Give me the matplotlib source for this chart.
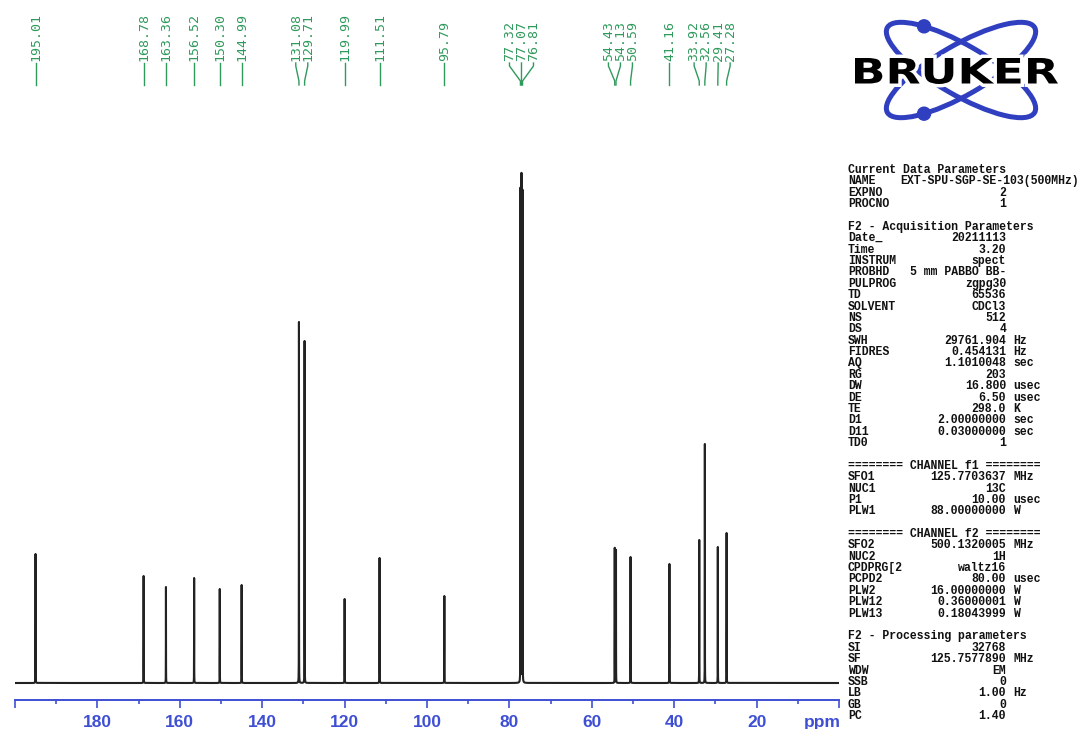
import numpy as np
import matplotlib
matplotlib.use("Agg")
import matplotlib.pyplot as plt
from matplotlib import transforms
from matplotlib.patches import Ellipse, Circle, PathPatch
from matplotlib.path import Path
from matplotlib.textpath import TextPath
from matplotlib.font_manager import FontProperties

# 13C peak list (ppm) and peak heights (plot units)
shifts = [195.01, 168.78, 163.36, 156.52, 150.30, 144.99, 131.08, 129.71,
          119.99, 111.51, 95.79, 77.32, 77.07, 76.81, 54.43, 54.13, 50.59,
          41.16, 33.92, 32.56, 29.41, 27.28]
heights = [129, 107, 96, 105, 94, 98, 361, 342, 84, 125, 87, 494, 508, 492,
           135, 133, 126, 119, 143, 239, 136, 150]

axis_ticks = list(range(0, 201, 20))
axis_minor = list(range(10, 200, 20))
axis_labels = ["" if t in (0, 200) else str(t) for t in axis_ticks]

# parameter block: header strings, blank lines (None) and (name, value, unit)
params = [
    "Current Data Parameters",
    ("NAME", "EXT-SPU-SGP-SE-103(500MHz)", ""),
    ("EXPNO", "2", ""),
    ("PROCNO", "1", ""),
    None,
    "F2 - Acquisition Parameters",
    ("Date_", "20211113", ""),
    ("Time", "3.20", ""),
    ("INSTRUM", "spect", ""),
    ("PROBHD", "5 mm PABBO BB-", ""),
    ("PULPROG", "zgpg30", ""),
    ("TD", "65536", ""),
    ("SOLVENT", "CDCl3", ""),
    ("NS", "512", ""),
    ("DS", "4", ""),
    ("SWH", "29761.904", "Hz"),
    ("FIDRES", "0.454131", "Hz"),
    ("AQ", "1.1010048", "sec"),
    ("RG", "203", ""),
    ("DW", "16.800", "usec"),
    ("DE", "6.50", "usec"),
    ("TE", "298.0", "K"),
    ("D1", "2.00000000", "sec"),
    ("D11", "0.03000000", "sec"),
    ("TD0", "1", ""),
    None,
    "======== CHANNEL f1 ========",
    ("SFO1", "125.7703637", "MHz"),
    ("NUC1", "13C", ""),
    ("P1", "10.00", "usec"),
    ("PLW1", "88.00000000", "W"),
    None,
    "======== CHANNEL f2 ========",
    ("SFO2", "500.1320005", "MHz"),
    ("NUC2", "1H", ""),
    ("CPDPRG[2", "waltz16", ""),
    ("PCPD2", "80.00", "usec"),
    ("PLW2", "16.00000000", "W"),
    ("PLW12", "0.36000001", "W"),
    ("PLW13", "0.18043999", "W"),
    None,
    "F2 - Processing parameters",
    ("SI", "32768", ""),
    ("SF", "125.7577890", "MHz"),
    ("WDW", "EM", ""),
    ("SSB", "0", ""),
    ("LB", "1.00", "Hz"),
    ("GB", "0", ""),
    ("PC", "1.40", ""),
]

BLUE = "#3f4fd4"
GREEN = "#2f9a5c"
LOGO_BLUE = "#2f3fbf"

W, H = 1083, 729
fig = plt.figure(figsize=(W / 100, H / 100), dpi=100)


def px_rect(x0, y0, x1, y1):
    return [x0 / W, 1 - y1 / H, (x1 - x0) / W, (y1 - y0) / H]


# spectrum axes
ax = fig.add_axes(px_rect(15, 150, 839, 700))
ax.set_xlim(200, 0)
ax.set_ylim(-17, 533)

ppm = np.linspace(0, 200, 400001)
hw = 0.012
spec = np.zeros_like(ppm)
for s, h in zip(shifts, heights):
    spec += h / (1 + ((ppm - s) / hw) ** 2)
ax.plot(ppm, spec, color="#222222", lw=1.5)

for side in ("top", "left", "right"):
    ax.spines[side].set_visible(False)
ax.spines["bottom"].set_color(BLUE)
ax.spines["bottom"].set_linewidth(1.4)
ax.set_yticks([])
ax.set_xticks(axis_ticks)
ax.set_xticklabels(axis_labels, fontweight="bold", family="Liberation Sans")
ax.set_xticks(axis_minor, minor=True)
ax.tick_params(axis="x", which="major", direction="out", length=6, width=1.2,
               colors=BLUE, labelsize=12.5, pad=5)
ax.tick_params(axis="x", which="minor", direction="out", length=3, width=1.2,
               colors=BLUE)

# overlay in pixel coordinates (y down) for labels, parameters and logo
top = fig.add_axes([0, 0, 1, 1])
top.set_xlim(0, W)
top.set_ylim(H, 0)
top.axis("off")
trans = transforms.blended_transform_factory(ax.transData, top.transData)

top.text(4, 722, "ppm", transform=trans, ha="center", va="center",
         color=BLUE, fontsize=12.5, fontweight="bold", family="Liberation Sans")


def spread(xs, gap):
    # push overlapping labels apart, keeping each cluster centred on its peaks
    groups = [[x] for x in xs]
    changed = True
    while changed:
        changed = False
        out = [groups[0]]
        for g in groups[1:]:
            prev = out[-1]
            end_prev = np.mean(prev) + (len(prev) - 1) * gap / 2
            start_g = np.mean(g) - (len(g) - 1) * gap / 2
            if start_g - end_prev < gap:
                out[-1] = prev + g
                changed = True
            else:
                out.append(g)
        groups = out
    pos = []
    for g in groups:
        c = np.mean(g)
        pos += [c + (i - (len(g) - 1) / 2) * gap for i in range(len(g))]
    return pos


label_pos = [-u for u in spread([-s for s in shifts], 12 / 4.12)]
for s, lp in zip(shifts, label_pos):
    top.plot([lp, lp, s, s], [63, 66, 81, 85], transform=trans,
             color=GREEN, lw=1.0)
    top.text(lp, 61, f"{s:.2f}", transform=trans, rotation=90,
             rotation_mode="anchor", ha="left", va="center",
             family="DejaVu Sans Mono", fontsize=9.5, color=GREEN)

# parameter listing
mono = dict(family="Liberation Mono", fontsize=8.3, fontweight="bold",
            color="#111111", va="center")
for i, row in enumerate(params):
    y = 170 + i * 11.375
    if row is None:
        continue
    if isinstance(row, str):
        top.text(848, y, row, ha="left", **mono)
        continue
    name, value, unit = row
    top.text(848, y, name, ha="left", **mono)
    if len(value) > 14:
        top.text(1079, y, value, ha="right", **mono)
    else:
        top.text(1006, y, value, ha="right", **mono)
    if unit:
        top.text(1013, y, unit, ha="left", **mono)

# logo: two crossed orbits with electrons and the word mark
cx, cy, a, b, th = 961, 70, 85, 25, 30
for ang in (th, -th):
    top.add_patch(Ellipse((cx, cy), 2 * a, 2 * b, angle=ang, fill=False,
                          edgecolor=LOGO_BLUE, lw=3.6, zorder=1))


def orbit_point(theta, target):
    t = np.radians(theta)
    phi = np.linspace(0, 2 * np.pi, 2000)
    x = cx + a * np.cos(phi) * np.cos(t) - b * np.sin(phi) * np.sin(t)
    y = cy + a * np.cos(phi) * np.sin(t) + b * np.sin(phi) * np.cos(t)
    k = np.argmin((x - target[0]) ** 2 + (y - target[1]) ** 2)
    return x[k], y[k]


for theta, target in ((th, (925, 23)), (-th, (925, 117))):
    top.add_patch(Circle(orbit_point(theta, target), 6.5, color=LOGO_BLUE,
                         zorder=1))

tp = TextPath((0, 0), "BRUKER", size=100,
              prop=FontProperties(family="DejaVu Sans", weight="bold"))
ext = tp.get_extents()
verts = tp.vertices.copy()
verts[:, 0] = 855 + (verts[:, 0] - ext.x0) * (1058 - 855) / ext.width
verts[:, 1] = 84 - (verts[:, 1] - ext.y0) * (84 - 58) / ext.height
word = Path(verts, tp.codes)
top.add_patch(PathPatch(word, facecolor="white", edgecolor="white", lw=5,
                        zorder=2))
top.add_patch(PathPatch(word, facecolor="black", edgecolor="none", zorder=3))

fig.savefig("out.png", dpi=100)
